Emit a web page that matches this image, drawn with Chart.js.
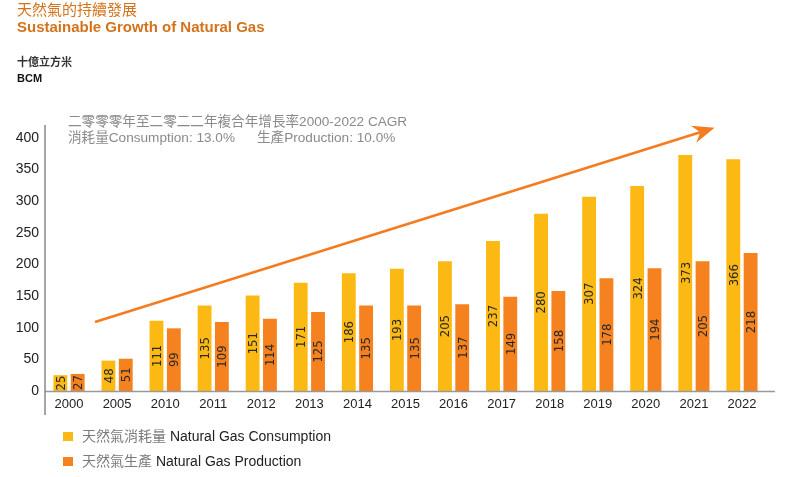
<!DOCTYPE html>
<html><head><meta charset="utf-8">
<script src="https://cdn.jsdelivr.net/npm/chart.js@4"></script>
<style>
body{margin:0;background:#fff;font-family:"Liberation Sans",Arial,"Noto Sans CJK TC",sans-serif}
#wrap{position:relative;width:800px;height:477px;overflow:hidden}
canvas{position:absolute;left:0;top:0}
.t{position:absolute;white-space:nowrap;font-family:"Liberation Sans",Arial,"Noto Sans CJK TC",sans-serif}
.sq{position:absolute;width:10px;height:9px}
.zh{color:#7a7a7a}
</style></head><body>
<div id="wrap">
<canvas id="c" width="800" height="477"></canvas>
<div class="t" style="left:17px;top:1px;font-size:15px;line-height:18px;color:#D4731B">天然氣的持續發展</div>
<div class="t" style="left:17px;top:18px;font-size:15px;line-height:18px;color:#D4731B;font-weight:bold">Sustainable Growth of Natural Gas</div>
<div class="t" style="left:17px;top:55px;font-size:11px;line-height:14px;color:#333;font-weight:bold">十億立方米</div>
<div class="t" style="left:17px;top:71px;font-size:11px;line-height:14px;color:#111;font-weight:bold">BCM</div>
<div class="t" style="left:68px;top:113px;font-size:13.6px;line-height:17px;color:#8a8a8a">二零零零年至二零二二年複合年增長率2000-2022 CAGR</div>
<div class="t" style="left:68px;top:129px;font-size:13.6px;line-height:17px;color:#8a8a8a">消耗量Consumption: 13.0%</div>
<div class="t" style="left:257px;top:129px;font-size:13.6px;line-height:17px;color:#8a8a8a">生產Production: 10.0%</div>
<div class="sq" style="left:63px;top:432px;background:#FDB913"></div>
<div class="t" style="left:82px;top:428px;font-size:14px;line-height:17px;color:#222"><span class="zh">天然氣消耗量</span> Natural Gas Consumption</div>
<div class="sq" style="left:63px;top:457px;background:#F5821F"></div>
<div class="t" style="left:82px;top:453px;font-size:14px;line-height:17px;color:#222"><span class="zh">天然氣生產</span> Natural Gas Production</div>
</div>
<script>
const years = ['2000','2005','2010','2011','2012','2013','2014','2015','2016','2017','2018','2019','2020','2021','2022'];
const consumption = [25,48,111,135,151,171,186,193,205,237,280,307,324,373,366];
const production = [27,51,99,109,114,125,135,135,137,149,158,178,194,205,218];
const yTicks = [0,50,100,150,200,250,300,350,400];
const arrowFrom = {x:0.54, y:109};
const arrowTo = {x:13.43, y:416};

const labelPlugin = {
  id:'barLabels',
  afterDatasetsDraw(chart){
    const ctx = chart.ctx;
    ctx.save();
    ctx.font = '13px "Liberation Sans Narrow","DejaVu Sans Condensed",sans-serif';
    ctx.fillStyle = '#2a2a2a';
    ctx.textAlign = 'center';
    ctx.textBaseline = 'middle';
    chart.data.datasets.forEach((ds, di) => {
      const meta = chart.getDatasetMeta(di);
      meta.data.forEach((bar, i) => {
        const cy = (bar.y + bar.base) / 2;
        ctx.save();
        ctx.translate(bar.x, cy);
        ctx.rotate(-Math.PI/2);
        ctx.fillText(String(ds.data[i]), 0, 1);
        ctx.restore();
      });
    });
    ctx.restore();
  }
};

const axisPlugin = {
  id:'axes',
  afterDatasetsDraw(chart){
    const {ctx, chartArea:a} = chart;
    ctx.save();
    ctx.strokeStyle = '#999';
    ctx.lineWidth = 1.5;
    ctx.beginPath();
    ctx.moveTo(a.left, a.bottom + 0.5);
    ctx.lineTo(a.right + 9, a.bottom + 0.5);
    ctx.stroke();
    ctx.strokeStyle = '#888';
    ctx.beginPath();
    ctx.moveTo(a.left, a.top + 3);
    ctx.lineTo(a.left, a.bottom + 24);
    ctx.stroke();
    ctx.restore();
  }
};

const arrowPlugin = {
  id:'arrow',
  afterDatasetsDraw(chart){
    const {ctx, scales:{x, y}} = chart;
    const x1 = x.getPixelForValue(arrowFrom.x), y1 = y.getPixelForValue(arrowFrom.y);
    const x2 = x.getPixelForValue(arrowTo.x), y2 = y.getPixelForValue(arrowTo.y);
    const ang = Math.atan2(y2 - y1, x2 - x1);
    const L = 22, W = 9, notch = 15;
    ctx.save();
    ctx.strokeStyle = '#F47B20';
    ctx.fillStyle = '#F47B20';
    ctx.lineWidth = 2.5;
    ctx.beginPath();
    ctx.moveTo(x1, y1);
    ctx.lineTo(x2 - Math.cos(ang)*notch, y2 - Math.sin(ang)*notch);
    ctx.stroke();
    ctx.translate(x2, y2);
    ctx.rotate(ang);
    ctx.beginPath();
    ctx.moveTo(0, 0);
    ctx.lineTo(-L, -W);
    ctx.lineTo(-notch, 0);
    ctx.lineTo(-L, W);
    ctx.closePath();
    ctx.fill();
    ctx.restore();
  }
};

new Chart(document.getElementById('c'), {
  type:'bar',
  data:{
    labels: years,
    datasets:[
      {label:'天然氣消耗量 Natural Gas Consumption', data: consumption, backgroundColor:'#FDB913', borderWidth:0, categoryPercentage:0.72, barPercentage:0.8},
      {label:'天然氣生產 Natural Gas Production', data: production, backgroundColor:'#F5821F', borderWidth:0, categoryPercentage:0.72, barPercentage:0.8}
    ]
  },
  options:{
    responsive:false,
    animation:false,
    devicePixelRatio:1,
    layout:{padding:{top:122, right:34, bottom:56, left:0}},
    plugins:{legend:{display:false}, tooltip:{enabled:false}},
    scales:{
      x:{
        offset:true,
        grid:{display:false, drawTicks:false},
        border:{display:false},
        ticks:{font:{size:13, family:'"Liberation Sans",Arial,sans-serif'}, color:'#222', padding:6, maxRotation:0},
        afterFit(s){ s.height = 30; }
      },
      y:{
        min:0, max:425,
        grid:{display:false, drawTicks:false},
        border:{display:false},
        afterBuildTicks(s){ s.ticks = yTicks.map(v => ({value:v})); },
        ticks:{font:{size:14, family:'"Liberation Sans",Arial,sans-serif'}, color:'#222', padding:6},
        afterFit(s){ s.width = 45; }
      }
    }
  },
  plugins:[labelPlugin, axisPlugin, arrowPlugin]
});
</script>
</body></html>
